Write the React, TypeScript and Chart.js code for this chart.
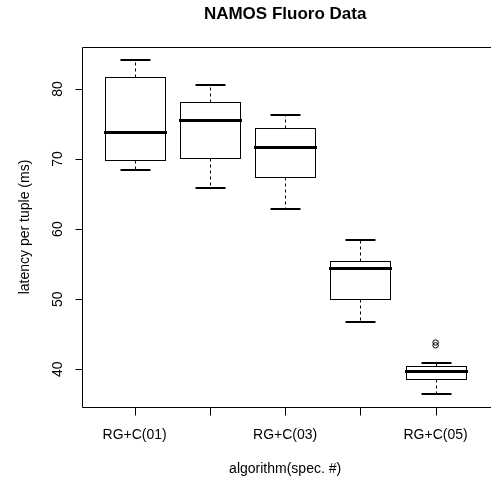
import React, { useEffect, useRef } from "react";
import { Chart, registerables } from "chart.js";

Chart.register(...registerables);

const categories = ["RG+C(01)", "RG+C(02)", "RG+C(03)", "RG+C(04)", "RG+C(05)"];
const whiskerLow = [68.5, 65.8, 62.8, 46.7, 36.5];
const quartile1 = [69.8, 70.2, 67.5, 50.0, 38.6];
const medians = [73.8, 75.6, 71.7, 54.4, 39.7];
const quartile3 = [81.7, 78.2, 74.5, 55.5, 40.5];
const whiskerHigh = [84.1, 80.6, 76.3, 58.4, 40.9];
const outlierGroup = [5, 5];
const outlierValues = [43.8, 43.4];
const yTicks = [40, 50, 60, 70, 80];
const shownLabelIndex = [0, 2, 4];

const titleText = "NAMOS Fluoro Data";
const xTitle = "algorithm(spec. #)";
const yTitle = "latency per tuple (ms)";

const FONT = '"Liberation Sans", Arial, Helvetica, sans-serif';

const allValues = [...whiskerLow, ...whiskerHigh, ...outlierValues];
const vMin = Math.min(...allValues);
const vMax = Math.max(...allValues);
const vPad = (vMax - vMin) * 0.04;

const boxPlugin = {
  id: "boxPlugin",
  afterDatasetsDraw(chart: any) {
    const ctx: CanvasRenderingContext2D = chart.ctx;
    const xs = chart.scales.x;
    const ys = chart.scales.y;
    const area = chart.chartArea;
    const W = chart.width;
    const px = (v: number) => Math.round(xs.getPixelForValue(v)) + 0.5;
    const py = (v: number) => Math.round(ys.getPixelForValue(v)) + 0.5;
    ctx.save();
    ctx.strokeStyle = "#000";
    ctx.fillStyle = "#000";

    // boxes
    categories.forEach((_, i) => {
      const c = i + 1;
      const xl = px(c - 0.4);
      const xr = px(c + 0.4);
      const xc = px(c);
      const sl = px(c - 0.2);
      const sr = px(c + 0.2);
      // whiskers dashed
      ctx.lineWidth = 1;
      ctx.setLineDash([3, 3]);
      ctx.beginPath();
      ctx.moveTo(xc, py(quartile3[i]));
      ctx.lineTo(xc, py(whiskerHigh[i]));
      ctx.moveTo(xc, py(quartile1[i]));
      ctx.lineTo(xc, py(whiskerLow[i]));
      ctx.stroke();
      ctx.setLineDash([]);
      // staples
      ctx.lineWidth = 2;
      ctx.lineCap = "butt";
      ctx.beginPath();
      ctx.moveTo(sl, Math.round(ys.getPixelForValue(whiskerHigh[i])));
      ctx.lineTo(sr, Math.round(ys.getPixelForValue(whiskerHigh[i])));
      ctx.moveTo(sl, Math.round(ys.getPixelForValue(whiskerLow[i])));
      ctx.lineTo(sr, Math.round(ys.getPixelForValue(whiskerLow[i])));
      ctx.stroke();
      // box
      ctx.lineWidth = 1;
      ctx.fillStyle = "#fff";
      ctx.fillRect(xl, py(quartile3[i]), xr - xl, py(quartile1[i]) - py(quartile3[i]));
      ctx.strokeRect(xl, py(quartile3[i]), xr - xl, py(quartile1[i]) - py(quartile3[i]));
      // median
      ctx.lineWidth = 3;
      ctx.beginPath();
      ctx.moveTo(xl - 1.5, py(medians[i]));
      ctx.lineTo(xr + 1.5, py(medians[i]));
      ctx.stroke();
    });

    ctx.fillStyle = "#000";
    ctx.lineWidth = 1;
    // frame (right side falls outside the canvas)
    const L = Math.round(area.left) + 0.5;
    const T = Math.round(area.top) + 0.5;
    const B = Math.round(area.bottom) + 0.5;
    ctx.beginPath();
    ctx.moveTo(W + 2, T);
    ctx.lineTo(L, T);
    ctx.lineTo(L, B);
    ctx.lineTo(W + 2, B);
    ctx.stroke();

    // y ticks
    ctx.font = `14px ${FONT}`;
    yTicks.forEach((t) => {
      const y = py(t);
      ctx.beginPath();
      ctx.moveTo(L - 7, y);
      ctx.lineTo(L, y);
      ctx.stroke();
      ctx.save();
      ctx.translate(L - 21, ys.getPixelForValue(t));
      ctx.rotate(-Math.PI / 2);
      ctx.textAlign = "center";
      ctx.textBaseline = "alphabetic";
      ctx.fillText(String(t), 0, 0);
      ctx.restore();
    });

    // x ticks
    categories.forEach((lab, i) => {
      const x = px(i + 1);
      ctx.beginPath();
      ctx.moveTo(x, B);
      ctx.lineTo(x, B + 8);
      ctx.stroke();
      if (shownLabelIndex.includes(i)) {
        ctx.textAlign = "center";
        ctx.textBaseline = "alphabetic";
        ctx.fillText(lab, xs.getPixelForValue(i + 1), B + 31);
      }
    });

    // titles
    const cx = xs.getPixelForValue((1 + categories.length) / 2);
    ctx.textAlign = "center";
    ctx.textBaseline = "alphabetic";
    ctx.fillText(xTitle, cx, B + 65);
    ctx.font = `bold 17px ${FONT}`;
    ctx.fillText(titleText, cx, 19);
    ctx.font = `14px ${FONT}`;
    ctx.save();
    ctx.translate(29, (area.top + area.bottom) / 2);
    ctx.rotate(-Math.PI / 2);
    ctx.fillText(yTitle, 0, 0);
    ctx.restore();

    ctx.restore();
  },
};

export default function App() {
  const ref = useRef<HTMLCanvasElement | null>(null);
  useEffect(() => {
    document.body.style.margin = "0";
    const canvas = ref.current;
    if (!canvas) return;
    const chart = new Chart(canvas, {
      type: "scatter",
      data: {
        datasets: [
          {
            label: "outliers",
            data: outlierGroup.map((g, i) => ({ x: g, y: outlierValues[i] })),
            pointRadius: 2.7,
            pointBorderWidth: 1,
            pointBorderColor: "#000",
            pointBackgroundColor: "rgba(0,0,0,0)",
            showLine: false,
          },
        ],
      },
      options: {
        animation: false,
        responsive: false,
        devicePixelRatio: 1,
        layout: { padding: { left: 82, top: 47, right: 0, bottom: 74 } },
        plugins: {
          legend: { display: false },
          tooltip: { enabled: false },
          title: { display: false },
        },
        scales: {
          x: { type: "linear", min: 0.3, max: 5.67, display: false },
          y: { type: "linear", min: vMin - vPad, max: vMax + vPad, display: false },
        },
      },
      plugins: [boxPlugin],
    });
    return () => chart.destroy();
  }, []);
  return (
    <div style={{ width: 491, height: 481, background: "#fff" }}>
      <canvas ref={ref} width={491} height={481} style={{ display: "block", width: 491, height: 481 }} />
    </div>
  );
}
